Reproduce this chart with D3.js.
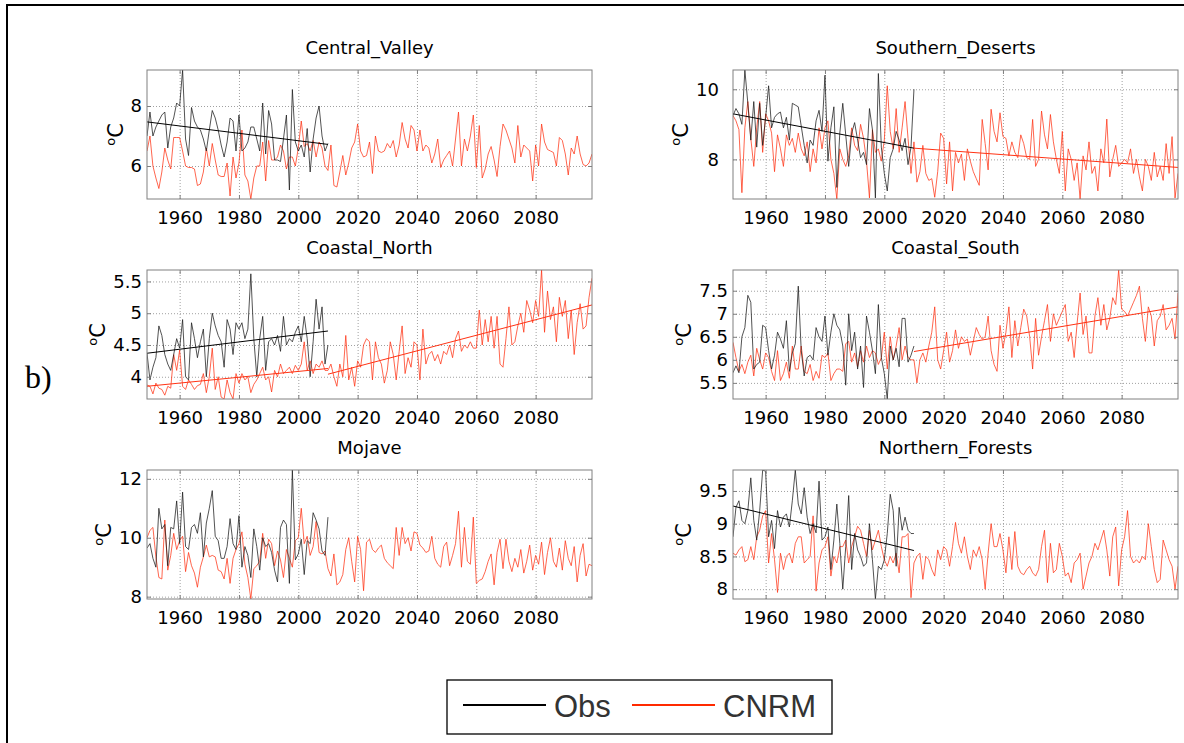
<!DOCTYPE html>
<html>
<head>
<meta charset="utf-8">
<script src="https://cdn.jsdelivr.net/npm/d3@7"></script>
<style>
  body { margin: 0; background: #fff; }
  svg { display: block; }
</style>
</head>
<body>
<script>
// Years covered by the two series
var startYear = 1949,
    obsEndYear = 2010,
    endYear = 2099;

var xTicks = [1960, 1980, 2000, 2020, 2040, 2060, 2080];

var regions = ["Central_Valley", "Southern_Deserts", "Coastal_North",
               "Coastal_South", "Mojave", "Northern_Forests"];

var yTicks = [[6, 8], [8, 10], [4, 4.5, 5, 5.5],
              [5.5, 6, 6.5, 7, 7.5], [8, 10, 12], [8, 8.5, 9, 9.5]];

// Observed series, 1949-2010
var obsCentralValley = [7.0,
  7.8, 7.0, 7.3, 7.5, 7.7, 7.8, 6.6, 7.3, 7.6, 8.1,
  8.0, 9.2, 6.9, 6.35, 7.95, 7.5, 7.3, 7.2, 6.9, 6.5,
  7.2, 7.85, 7.6, 7.2, 6.7, 6.3, 6.8, 7.6, 7.5, 6.5,
  7.7, 6.5, 6.6, 6.8, 7.3, 7.3, 6.9, 6.5, 8.1, 6.4,
  7.85, 7.4, 6.2, 6.2, 6.15, 6.9, 7.7, 5.2, 8.55, 6.8,
  6.5, 6.7, 6.3, 7.25, 5.8, 6.9, 7.6, 8.0, 7.0, 6.5,
  6.75];

var obsSouthernDeserts = [9.25,
  9.45, 9.3, 9.0, 10.55, 9.6, 8.55, 9.65, 8.35, 9.6, 8.4,
  9.2, 10.1, 8.9, 9.2, 9.3, 9.35, 8.9, 9.2, 8.55, 9.6,
  9.55, 9.5, 8.95, 8.4, 7.9, 8.55, 8.4, 9.1, 9.4, 8.8,
  10.4, 7.95, 8.9, 9.5, 7.2, 8.75, 9.6, 8.7, 7.8, 8.75,
  9.05, 8.55, 8.05, 8.2, 7.85, 9.45, 8.85, 6.9, 10.45, 8.35,
  7.6, 7.1, 8.05, 8.3, 8.8, 8.55, 8.25, 8.6, 7.85, 8.35,
  10.0];

var obsCoastalNorth = [4.37,
  3.95, 4.15, 4.3, 4.8, 4.65, 4.35, 4.2, 4.1, 4.35, 4.6,
  4.45, 4.9, 4.0, 3.95, 4.85, 4.6, 4.3, 4.55, 4.75, 4.0,
  4.6, 5.0, 4.8, 4.65, 4.55, 4.15, 4.9, 4.75, 4.35, 4.85,
  4.75, 4.85, 4.6, 4.75, 5.62, 4.6, 4.0, 4.6, 4.95, 4.1,
  4.55, 4.6, 4.5, 4.65, 4.4, 4.95, 4.5, 4.6, 4.55, 4.7,
  4.8, 4.55, 4.95, 4.6, 4.0, 4.55, 5.22, 4.75, 5.1, 4.2,
  4.5];

var obsCoastalSouth = [5.72,
  5.87, 5.72, 6.5, 6.7, 7.4, 7.25, 5.8, 5.9, 5.95, 6.75,
  6.7, 6.2, 5.8, 6.1, 6.6, 6.45, 6.25, 6.85, 5.75, 6.15,
  6.35, 7.6, 6.2, 5.65, 6.05, 6.1, 6.0, 6.7, 6.5, 6.4,
  6.95, 6.1, 6.6, 7.0, 6.75, 6.65, 6.3, 5.45, 7.0, 6.2,
  6.6, 5.8, 6.3, 5.4, 6.95, 6.6, 6.2, 5.7, 7.2, 6.05,
  5.7, 5.15, 6.3, 6.0, 6.25, 5.85, 6.9, 6.9, 5.95, 6.1,
  6.3];

var obsMojave = [9.65,
  9.8, 9.3, 9.0, 11.0, 10.3, 10.45, 9.05, 10.35, 10.3, 11.25,
  9.8, 11.55, 9.7, 9.6, 10.35, 10.45, 10.15, 10.85, 9.35, 10.5,
  11.0, 11.6, 10.05, 9.9, 9.3, 9.3, 9.7, 10.65, 9.8, 9.6,
  10.75, 9.0, 9.7, 9.4, 8.65, 10.3, 9.7, 8.9, 10.0, 9.7,
  9.8, 9.5, 8.9, 8.5, 10.35, 10.6, 10.45, 8.45, 12.3, 9.25,
  9.45, 9.95, 8.75, 9.9, 9.8, 10.85, 10.6, 10.3, 9.55, 9.4,
  10.7];

var obsNorthernForests = [8.8,
  9.25, 9.35, 9.05, 9.0, 9.2, 9.7, 9.05, 8.75, 9.2, 9.82,
  9.8, 8.8, 9.05, 8.62, 9.2, 8.95, 9.1, 9.15, 8.95, 9.35,
  9.82, 9.3, 9.15, 9.55, 9.1, 8.85, 9.0, 8.86, 9.65, 8.75,
  8.8, 8.95, 8.3, 8.75, 9.3, 8.7, 8.0, 8.65, 9.43, 8.3,
  8.85, 8.6, 8.5, 8.35, 8.4, 9.0, 8.45, 7.85, 8.35, 8.3,
  8.45, 8.85, 9.45, 9.2, 8.35, 9.25, 8.9, 9.1, 8.9, 8.85,
  8.85];

// CNRM model series, 1949-2099
var cnrmCentralValley = [6.5,
  7.0, 6.0, 5.6, 5.25, 5.8, 6.6, 6.2, 5.9, 6.95, 6.95,
  6.95, 6.5, 6.0, 5.95, 5.95, 5.9, 5.35, 5.4, 5.8, 6.6,
  6.0, 6.75, 6.2, 5.7, 5.65, 5.65, 6.1, 5.0, 6.3, 5.6,
  6.1, 7.2, 5.7, 5.5, 4.9, 5.6, 6.0, 6.0, 6.8, 5.5,
  6.85, 6.2, 6.2, 6.3, 6.7, 6.5, 5.9, 6.3, 6.3, 6.0,
  6.6, 7.5, 6.65, 6.75, 6.5, 6.85, 6.3, 6.8, 6.6, 6.0,
  5.85, 6.7, 5.35, 5.3, 5.8, 6.35, 5.7, 6.1, 6.6, 6.8,
  7.4, 6.5, 6.3, 6.35, 6.8, 5.75, 7.0, 6.5, 6.45, 6.5,
  6.75, 6.6, 6.85, 6.3, 6.7, 7.45, 6.9, 6.6, 7.35, 7.2,
  6.5, 7.2, 6.5, 6.7, 6.6, 6.1, 6.4, 6.9, 5.95, 6.2,
  6.35, 6.5, 6.0, 6.9, 7.8, 6.0, 6.9, 6.5, 7.0, 7.7,
  5.95, 7.35, 5.6, 5.9, 6.4, 6.65, 6.2, 5.65, 6.65, 7.4,
  7.2, 6.9, 6.6, 6.1, 7.35, 6.3, 6.7, 6.6, 6.5, 5.5,
  6.7, 6.0, 7.4, 6.8, 6.55, 6.5, 6.45, 6.0, 6.95, 6.85,
  6.4, 5.7, 6.6, 6.4, 7.0, 6.4, 6.05, 6.0, 6.1, 6.4];

var cnrmSouthernDeserts = [9.25,
  9.1, 8.85, 7.05, 8.9, 9.65, 8.6, 7.8, 8.9, 9.65, 8.2,
  9.3, 9.1, 8.75, 7.65, 8.7, 8.3, 7.8, 8.7, 8.4, 8.6,
  8.2, 8.75, 8.3, 8.1, 8.5, 7.65, 8.3, 7.9, 8.9, 8.3,
  8.9, 9.1, 8.0, 7.6, 6.87, 8.3, 8.0, 7.8, 8.1, 8.9,
  8.4, 8.25, 9.0, 8.6, 7.95, 6.9, 8.85, 8.2, 8.3, 7.95,
  8.55, 10.1, 8.8, 8.3, 9.45, 8.2, 8.9, 9.65, 8.6, 7.6,
  8.5, 7.35, 7.65, 8.4, 7.6, 7.4, 7.45, 6.92, 7.65, 8.75,
  8.6, 7.3, 8.5, 7.1, 8.2, 7.9, 8.15, 7.4, 8.3, 7.95,
  7.65, 7.45, 7.26, 9.14, 8.45, 7.7, 9.43, 8.8, 8.5, 9.33,
  8.65, 8.6, 8.1, 8.5, 8.2, 8.05, 8.7, 8.45, 8.05, 8.0,
  9.14, 7.8, 8.0, 9.38, 8.7, 8.3, 9.28, 8.5, 8.0, 7.6,
  8.8, 7.1, 8.3, 8.0, 7.4, 7.9, 6.87, 8.1, 7.7, 8.5,
  7.6, 7.8, 7.1, 8.3, 7.9, 9.15, 7.5, 8.0, 8.4, 7.8,
  7.9, 8.0, 7.9, 8.3, 7.6, 8.0, 7.5, 7.1, 8.0, 7.8,
  7.4, 8.2, 7.5, 7.8, 7.4, 8.45, 7.6, 8.65, 6.9, 7.6];

var cnrmCoastalNorth = [3.87,
  3.85, 3.73, 3.9, 3.82, 3.8, 3.71, 3.85, 3.82, 4.35, 4.1,
  4.42, 3.85, 3.8, 3.95, 3.88, 3.8, 3.86, 3.88, 4.05, 3.75,
  4.0, 4.45, 3.8, 4.0, 3.68, 3.65, 3.95, 3.75, 3.65, 4.05,
  3.9, 4.05, 3.95, 4.0, 3.75, 3.88, 3.95, 4.05, 4.15, 3.95,
  4.0, 3.76, 4.1, 4.0, 4.2, 4.05, 4.1, 4.15, 4.05, 4.18,
  4.1, 4.2, 4.55, 4.1, 4.25, 4.05, 4.2, 4.15, 4.25, 4.1,
  4.1, 4.2, 4.0, 3.85, 4.2, 4.0, 4.65, 3.95, 4.15, 3.85,
  4.25, 4.15, 4.5, 4.6, 4.55, 3.95, 4.55, 4.3, 4.2, 3.9,
  4.1, 4.55, 4.35, 3.95, 4.4, 4.8, 4.05, 4.3, 4.15, 4.55,
  4.5, 3.95, 4.75, 4.2, 4.35, 4.4, 4.25, 4.35, 4.2, 4.4,
  4.35, 4.5, 4.3, 4.6, 4.72, 4.4, 4.5, 4.45, 4.55, 4.45,
  4.45, 5.05, 4.5, 4.9, 4.55, 4.95, 4.45, 4.95, 4.2, 4.15,
  4.6, 5.1, 4.5, 4.55, 4.8, 5.0, 4.7, 5.2, 5.05, 4.85,
  5.2, 4.95, 5.68, 4.7, 5.35, 4.9, 5.1, 4.55, 5.25, 4.95,
  5.2, 4.6, 5.05, 4.35, 4.85, 5.15, 4.75, 4.8, 5.25, 5.55];

var cnrmCoastalSouth = [6.38,
  6.05, 5.75, 5.9, 5.7, 5.95, 6.1, 5.65, 6.25, 6.0, 5.8,
  6.15, 6.05, 5.75, 5.55, 6.2, 5.55, 5.7, 5.95, 5.6, 6.3,
  5.8, 5.8, 6.3, 5.75, 5.7, 5.9, 5.55, 5.75, 5.6, 6.1,
  6.05, 6.15, 5.55, 5.7, 5.8, 5.8, 5.75, 6.35, 6.4, 5.95,
  6.15, 5.85, 6.2, 5.95, 6.3, 6.05, 6.2, 6.15, 5.9, 6.05,
  6.6, 5.8, 6.5, 6.0, 6.3, 6.7, 6.0, 6.3, 6.05, 6.0,
  6.0, 5.5, 6.0, 6.15, 5.95, 6.3, 6.6, 7.15, 6.0, 5.8,
  6.2, 6.6, 5.95, 6.2, 6.65, 6.25, 6.5, 6.4, 6.45, 6.1,
  6.4, 6.7, 6.55, 6.45, 6.5, 6.95, 6.2, 5.9, 5.75, 6.75,
  6.25, 6.6, 7.15, 6.05, 6.85, 6.3, 6.7, 7.1, 6.95, 6.5,
  5.8, 6.9, 6.1, 6.5, 6.85, 7.2, 6.4, 7.0, 6.75, 6.9,
  7.05, 7.2, 6.4, 6.6, 6.05, 6.8, 7.45, 6.55, 6.95, 6.15,
  6.15, 6.95, 7.35, 6.75, 7.2, 6.65, 6.9, 7.35, 7.2, 7.95,
  7.1, 7.05, 6.95, 7.1, 7.25, 7.4, 7.6, 6.9, 6.4, 7.15,
  6.95, 6.3, 6.85, 6.95, 7.2, 6.65, 6.75, 6.9, 6.45, 7.45];

var cnrmMojave = [10.0,
  10.25, 10.35, 9.35, 8.65, 8.6, 10.6, 8.9, 9.4, 10.15, 9.6,
  9.9, 10.05, 8.85, 9.5, 9.05, 8.8, 8.32, 9.0, 9.35, 9.75,
  9.35, 9.4, 9.35, 8.9, 8.85, 8.6, 9.3, 8.45, 9.3, 9.6,
  9.8, 10.2, 9.1, 8.65, 7.92, 8.95, 9.05, 9.2, 10.15, 9.3,
  9.95, 9.8, 9.05, 9.55, 9.25, 8.65, 9.6, 9.3, 9.0, 9.9,
  10.0, 11.0, 9.8, 10.05, 9.4, 9.7, 10.55, 9.5, 9.45, 9.55,
  8.95, 8.7, 9.45, 8.4, 8.5, 8.75, 9.6, 10.0, 9.2, 8.5,
  10.05, 9.6, 8.2, 9.85, 9.95, 9.6, 9.5, 9.65, 9.75, 9.3,
  9.15, 9.05, 8.95, 10.35, 9.4, 10.35, 9.8, 10.0, 9.55, 10.2,
  10.15, 9.75, 9.65, 9.5, 9.55, 10.05, 9.3, 9.1, 9.0, 9.7,
  9.85, 9.05, 9.4, 9.8, 10.9, 9.0, 10.35, 9.2, 9.1, 10.7,
  8.45, 8.55, 8.6, 8.85, 9.2, 9.45, 8.4, 9.5, 9.95, 8.95,
  9.95, 9.2, 8.85, 9.3, 9.0, 9.6, 8.8, 9.2, 9.75, 8.9,
  9.4, 9.1, 9.85, 8.75, 9.5, 10.0, 9.2, 9.0, 9.65, 8.9,
  9.9, 9.3, 9.05, 9.7, 8.5, 9.4, 9.8, 8.7, 9.1, 9.05];

var cnrmNorthernForests = [8.55,
  8.52, 8.6, 8.65, 8.42, 8.45, 8.65, 8.45, 8.8, 8.9, 9.12,
  9.2, 8.4, 8.85, 8.45, 7.95, 8.55, 8.3, 8.5, 8.55, 8.4,
  8.7, 8.8, 8.8, 8.4, 8.45, 8.5, 9.12, 7.97, 8.4, 8.6,
  8.65, 8.8, 8.2, 8.5, 8.4, 8.65, 8.65, 8.75, 8.4, 8.65,
  8.8, 8.96, 8.9, 8.7, 8.5, 8.9, 8.6, 8.75, 8.9, 8.65,
  8.45, 8.35, 8.5, 8.4, 8.55, 8.25, 8.8, 8.8, 8.85, 7.87,
  8.4, 8.5, 8.55, 8.15, 8.5, 8.45, 8.3, 8.2, 8.6, 8.45,
  8.65, 8.6, 8.35, 8.65, 9.02, 8.7, 8.55, 8.8, 8.5, 8.3,
  8.6, 8.5, 8.65, 8.45, 8.0, 8.55, 9.0, 8.65, 8.65, 8.85,
  8.6, 8.25, 8.8, 8.3, 8.88, 8.35, 8.25, 8.22, 8.3, 8.35,
  8.25, 8.2, 8.3, 8.65, 8.9, 8.1, 8.7, 8.25, 8.3, 8.7,
  8.5, 8.2, 8.25, 8.1, 8.4, 8.45, 8.55, 8.0, 8.2, 8.4,
  8.5, 8.7, 8.6, 8.75, 8.9, 8.6, 8.2, 8.8, 8.95, 8.05,
  8.6, 8.8, 9.2, 8.5, 8.4, 8.45, 8.4, 8.5, 8.45, 9.0,
  8.65, 8.3, 8.1, 8.15, 8.75, 8.6, 8.45, 8.35, 8.0, 8.35];

// Linear trend end values: obs 1949-2010, CNRM 1949-2010, CNRM 2010-2099
var obsTrends = [[7.47, 6.72], [9.3, 8.32], [4.37, 4.72], null, null, [9.27, 8.59]];
var cnrmHistTrends = [null, null, [3.85, 4.13], null, null, null];
var cnrmFutureTrends = [null, [8.32, 7.77], [4.04, 5.13], [6.18, 7.15], null, null];

var obsSeries = [obsCentralValley, obsSouthernDeserts, obsCoastalNorth,
                 obsCoastalSouth, obsMojave, obsNorthernForests];
var cnrmSeries = [cnrmCentralValley, cnrmSouthernDeserts, cnrmCoastalNorth,
                  cnrmCoastalSouth, cnrmMojave, cnrmNorthernForests];

// Page layout
var width = 1184, height = 743;
var colLeft = [147, 733], rowTop = [70, 270, 470],
    panelWidth = 445, panelHeight = 129;
var labelPad = [5, 14, 5, 5, 5, 5];

var obsColor = "#1a1a1a", cnrmColor = "#ff3314", axisColor = "#808080";
var sansFont = "DejaVu Sans, Verdana, sans-serif";

var svg = d3.select("body")
            .append("svg")
            .attr("width", width)
            .attr("height", height);

// Outer frame (top and left edges only, the page is cropped)
svg.append("path")
   .attr("d", "M7," + height + "V5H" + width)
   .attr("fill", "none")
   .attr("stroke", "#000")
   .attr("stroke-width", 2);

svg.append("text")
   .attr("x", 25)
   .attr("y", 388)
   .attr("font-family", "Liberation Serif, Times New Roman, serif")
   .attr("font-size", 32)
   .text("b)");

var line = d3.line();

regions.forEach(function(name, i) {
    var x0 = colLeft[i % 2],
        y0 = rowTop[Math.floor(i / 2)],
        obs = obsSeries[i],
        cnrm = cnrmSeries[i];

    var xScale = d3.scaleLinear()
                   .domain([startYear, endYear])
                   .range([0, panelWidth]);
    // Tight y-range, like MATLAB's axis tight
    var yScale = d3.scaleLinear()
                   .domain(d3.extent(obs.concat(cnrm)))
                   .range([panelHeight, 0]);

    var g = svg.append("g")
               .attr("transform", "translate(" + x0 + "," + y0 + ")");

    g.append("clipPath")
     .attr("id", "clip" + i)
     .append("rect")
     .attr("width", panelWidth)
     .attr("height", panelHeight);

    // Dotted grid
    var gridX = g.append("g")
                 .attr("transform", "translate(0," + panelHeight + ")")
                 .call(d3.axisBottom(xScale).tickValues(xTicks)
                         .tickSize(-panelHeight).tickFormat(""));
    var gridY = g.append("g")
                 .call(d3.axisLeft(yScale).tickValues(yTicks[i])
                         .tickSize(-panelWidth).tickFormat(""));
    [gridX, gridY].forEach(function(grid) {
        grid.select(".domain").remove();
        grid.selectAll("line")
            .attr("stroke", "#a0a0a0")
            .attr("stroke-dasharray", "1,2");
    });

    var plot = g.append("g").attr("clip-path", "url(#clip" + i + ")");

    var toPoints = function(values) {
        return values.map(function(v, j) {
            return [xScale(startYear + j), yScale(v)];
        });
    };

    plot.append("path")
        .attr("d", line(toPoints(cnrm)))
        .attr("fill", "none")
        .attr("stroke", cnrmColor)
        .attr("stroke-opacity", 0.75)
        .attr("stroke-width", 1);

    plot.append("path")
        .attr("d", line(toPoints(obs)))
        .attr("fill", "none")
        .attr("stroke", obsColor)
        .attr("stroke-opacity", 0.75)
        .attr("stroke-width", 1);

    var trend = function(ends, y1, y2, color) {
        if (!ends) return;
        plot.append("path")
            .attr("d", line([[xScale(y1), yScale(ends[0])],
                             [xScale(y2), yScale(ends[1])]]))
            .attr("fill", "none")
            .attr("stroke", color)
            .attr("stroke-width", 1);
    };
    trend(cnrmHistTrends[i], startYear, obsEndYear, cnrmColor);
    trend(cnrmFutureTrends[i], obsEndYear, endYear, cnrmColor);
    trend(obsTrends[i], startYear, obsEndYear, "#000");

    // Axes with inward ticks on all four sides
    var xAxis = g.append("g")
                 .attr("transform", "translate(0," + panelHeight + ")")
                 .call(d3.axisBottom(xScale).tickValues(xTicks)
                         .tickSizeInner(-4).tickSizeOuter(0).tickPadding(12)
                         .tickFormat(d3.format("d")));
    var xTop = g.append("g")
                .call(d3.axisTop(xScale).tickValues(xTicks)
                        .tickSizeInner(-4).tickSizeOuter(0).tickFormat(""));
    var yAxis = g.append("g")
                 .call(d3.axisLeft(yScale).tickValues(yTicks[i])
                         .tickSizeInner(-4).tickSizeOuter(0).tickPadding(labelPad[i])
                         .tickFormat(function(d) { return String(d); }));
    var yRight = g.append("g")
                  .attr("transform", "translate(" + panelWidth + ",0)")
                  .call(d3.axisRight(yScale).tickValues(yTicks[i])
                          .tickSizeInner(-4).tickSizeOuter(0).tickFormat(""));
    [xAxis, xTop, yAxis, yRight].forEach(function(ax) {
        ax.select(".domain").remove();
        ax.selectAll("line").attr("stroke", axisColor);
        ax.selectAll("text")
          .attr("fill", "#000")
          .attr("font-family", sansFont)
          .attr("font-size", 18);
    });

    g.append("rect")
     .attr("width", panelWidth)
     .attr("height", panelHeight)
     .attr("fill", "none")
     .attr("stroke", axisColor)
     .attr("stroke-width", 1);

    g.append("text")
     .attr("x", panelWidth / 2)
     .attr("y", -16)
     .attr("text-anchor", "middle")
     .attr("font-family", sansFont)
     .attr("font-size", 18)
     .text(name);

    // y label sits just left of the widest tick label
    var maxTick = d3.max(yAxis.selectAll("text").nodes(), function(n) {
        return n.getComputedTextLength();
    });
    var labelX = -labelPad[i] - maxTick - 8;
    var yLabel = g.append("text")
                  .attr("transform", "translate(" + labelX + "," + (panelHeight / 2) + ") rotate(-90)")
                  .attr("text-anchor", "middle")
                  .attr("font-family", sansFont);
    yLabel.append("tspan")
          .attr("font-size", 13)
          .attr("dy", -8)
          .text("o");
    yLabel.append("tspan")
          .attr("font-size", 21)
          .attr("dy", 8)
          .text("C");
});

// Legend
var legend = svg.append("g");
legend.append("rect")
      .attr("x", 447).attr("y", 680)
      .attr("width", 385).attr("height", 54)
      .attr("fill", "#fff")
      .attr("stroke", "#000")
      .attr("stroke-width", 1.3);

var legendItems = [{label: "Obs", color: "#000", x: 463},
                   {label: "CNRM", color: "#ff2a00", x: 632}];
legendItems.forEach(function(item) {
    legend.append("line")
          .attr("x1", item.x).attr("x2", item.x + 83)
          .attr("y1", 705).attr("y2", 705)
          .attr("stroke", item.color)
          .attr("stroke-width", 2.2);
    legend.append("text")
          .attr("x", item.x + 91)
          .attr("y", 717)
          .attr("font-family", "Liberation Sans, Arial, sans-serif")
          .attr("font-size", 31)
          .attr("fill", "#333")
          .text(item.label);
});
</script>
</body>
</html>
